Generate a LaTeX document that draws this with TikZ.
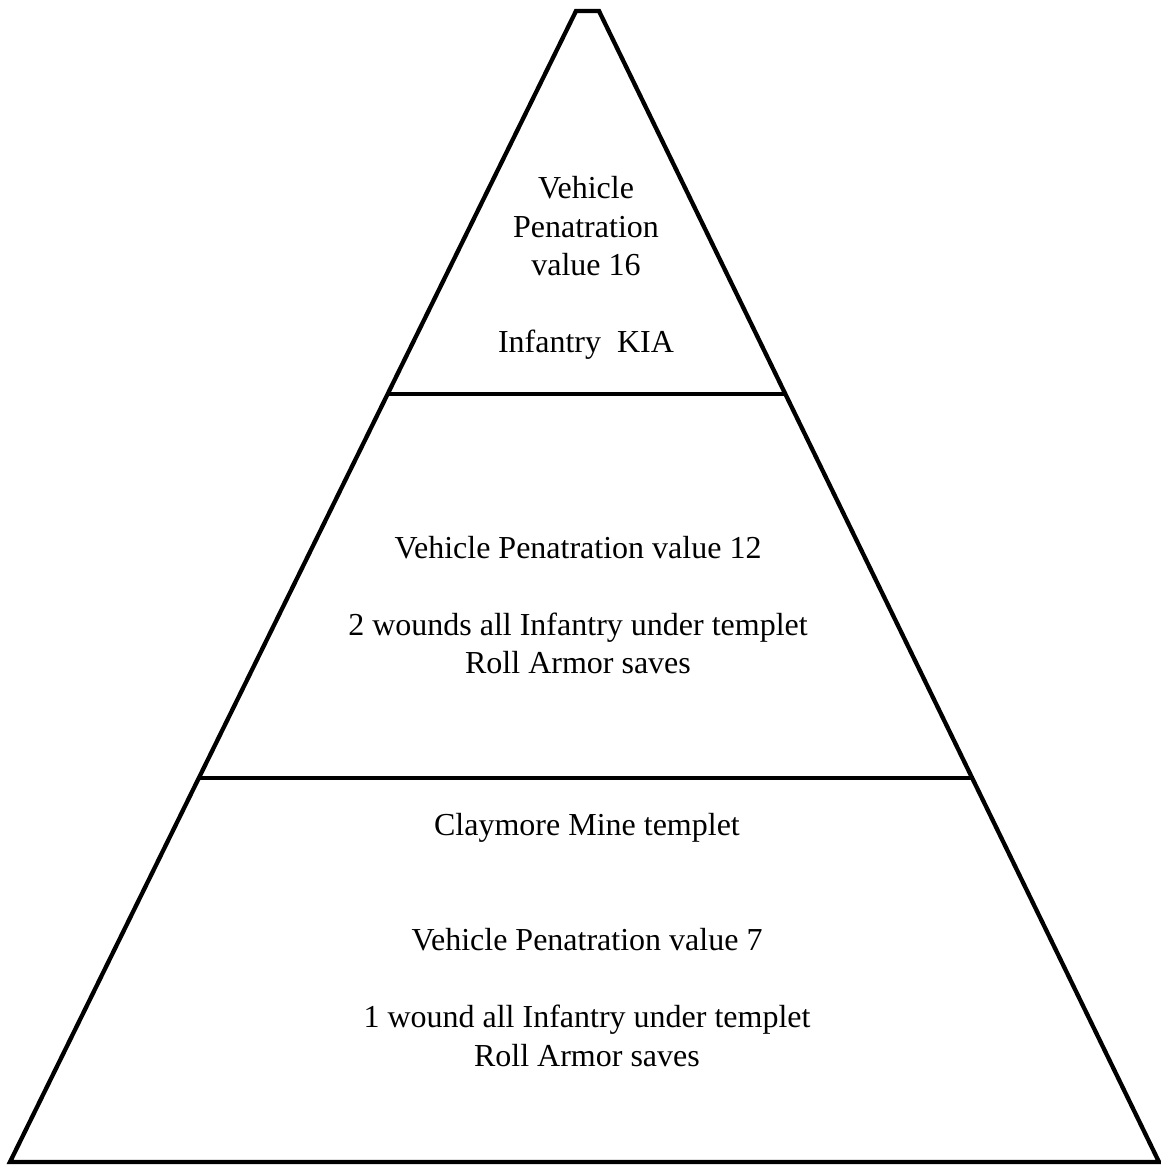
\documentclass[tikz,border=0pt]{standalone}
\usepackage{fontspec}
\setmainfont{Liberation Serif}
\newcommand{\lineskipbox}{38.5pt}
\newcommand{\doubleskipbox}{77pt}
\tikzset{
    edge/.style={line width=4.3pt, line join=miter},
    tier/.style={align=center, font=\fontsize{32}{38.5}\selectfont, inner sep=0pt}
}
\begin{document}
\begin{tikzpicture}[x=1pt, y=-1pt]
    \useasboundingbox (0,0) rectangle (1161,1165);
    % outline of the pyramid
    \coordinate (tl) at (576,11);
    \coordinate (tr) at (599,11);
    \coordinate (bl) at (10,1162);
    \coordinate (br) at (1159,1162);
    \draw[edge] (bl) -- (tl) -- (tr) -- (br) -- cycle;
    % tier borders
    \coordinate (a1) at (388,394);
    \coordinate (a2) at (784,394);
    \coordinate (b1) at (199,778);
    \coordinate (b2) at (974,778);
    \draw[edge] (a1) -- (a2);
    \draw[edge] (b1) -- (b2);

    \node[tier] (top) at (586,268) {Vehicle\\Penatration\\value 16\\[\lineskipbox]Infantry\ \ KIA};
    \node[tier] (mid) at (578,605) {Vehicle Penatration value 12\\[\lineskipbox]2 wounds all Infantry under templet\\Roll Armor saves};
    \node[tier] (low) at (587,940) {Claymore Mine templet\\[\doubleskipbox]Vehicle Penatration value 7\\[\lineskipbox]1 wound all Infantry under templet\\Roll Armor saves};
\end{tikzpicture}
\end{document}
